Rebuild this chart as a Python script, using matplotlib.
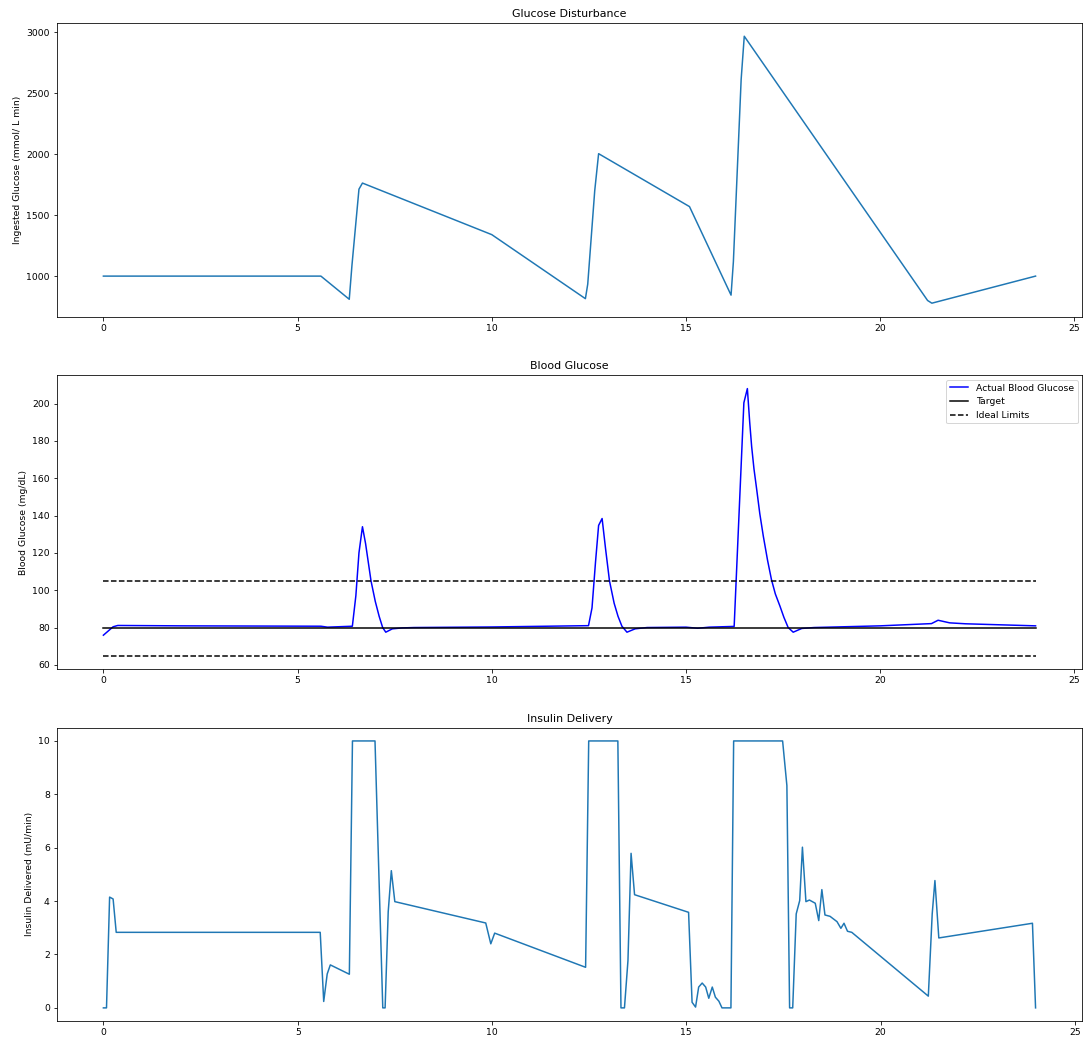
import numpy as np
import matplotlib
matplotlib.use("Agg")
import matplotlib.pyplot as plt

plt.rcParams['font.size'] = 9.2

# glucose disturbance (ingested glucose)
t_dist = [0, 5.6, 6.33, 6.4, 6.58, 6.67, 10.0, 12.41, 12.47, 12.65, 12.75,
          15.09, 16.16, 16.22, 16.42, 16.5, 21.22, 21.33, 24.0]
dist = [1000, 1000, 810, 1090, 1713, 1763, 1340, 815, 934, 1700, 2004,
        1570, 844, 1118, 2613, 2967, 800, 778, 1000]

# blood glucose
t_bg = [0, 0.25, 0.37, 2, 5.6, 5.77, 6.41, 6.5, 6.58, 6.67, 6.75, 6.89, 7.0,
        7.1, 7.19, 7.27, 7.44, 7.7, 8.0, 10, 12.49, 12.58, 12.67, 12.75,
        12.84, 12.93, 13.03, 13.15, 13.25, 13.35, 13.48, 13.69, 14.0, 15.0,
        15.3, 15.6, 16.24, 16.49, 16.58, 16.64, 16.69, 16.75, 16.82, 16.9,
        16.99, 17.1, 17.2, 17.3, 17.42, 17.52, 17.63, 17.76, 17.98, 18.3,
        20, 21.32, 21.49, 21.79, 22.2, 24]
bg = [75.9, 80.4, 81.1, 80.9, 80.7, 80.2, 80.7, 97, 120, 134, 125, 105, 94,
      86, 80, 77.5, 79.3, 79.8, 80.0, 80.3, 81, 90.5, 115, 134.7,
      138.4, 122, 105, 93, 86, 80.7, 77.5, 79.3, 80, 80.2,
      79.6, 80.2, 80.6, 200.4, 208, 190, 177, 165, 154, 141,
      129, 116, 105.7, 98, 91.4, 85.5, 80, 77.5, 79.5, 80,
      80.9, 82.1, 83.9, 82.5, 82, 80.9]
target = 80
limits = [65, 105]

# insulin delivery
t_ins = [0, 0.08, 0.16, 0.25, 0.33, 5.58, 5.67, 5.76, 5.84, 6.33, 6.41, 6.99,
         7.19, 7.25, 7.33, 7.41, 7.5, 9.84, 9.97, 10.07, 12.41, 12.49, 13.24,
         13.32, 13.41, 13.5, 13.58, 13.67, 15.06, 15.15, 15.24, 15.32, 15.41,
         15.5, 15.58, 15.67, 15.75, 15.84, 15.92, 16.15, 16.22, 17.48, 17.59,
         17.66, 17.74, 17.83, 17.92, 17.99, 18.08, 18.17, 18.32, 18.41, 18.49,
         18.57, 18.7, 18.88, 18.98, 19.06, 19.15, 19.26, 21.23, 21.33, 21.4,
         21.5, 23.91, 23.99]
ins = [0, 0, 4.15, 4.08, 2.83, 2.83, 0.24, 1.27, 1.61, 1.26, 10, 10,
       0, 0, 3.6, 5.14, 3.98, 3.18, 2.4, 2.8, 1.52, 10, 10,
       0, 0, 1.77, 5.79, 4.24, 3.58, 0.21, 0.03, 0.78, 0.93,
       0.78, 0.36, 0.78, 0.4, 0.25, 0, 0, 10, 10, 8.33,
       0, 0, 3.52, 4.02, 6.02, 3.98, 4.04, 3.92, 3.27, 4.43,
       3.48, 3.43, 3.23, 2.98, 3.17, 2.87, 2.83, 0.44, 3.52, 4.77,
       2.62, 3.17, 0]

t_start, t_end = 0, 24

fig, axes = plt.subplots(3, 1, figsize=(1092 / 72, 1041 / 72), dpi=72)
plt.subplots_adjust(left=0.052, right=0.991, top=0.978, bottom=0.019, hspace=0.2)

ax = axes[0]
ax.plot(t_dist, dist)
ax.set_title("Glucose Disturbance")
ax.set_ylabel("Ingested Glucose (mmol/ L min)")

ax = axes[1]
ax.plot(t_bg, bg, color='blue', label='Actual Blood Glucose')
ax.plot([t_start, t_end], [target, target], color='k', label='Target')
ax.plot([t_start, t_end], [limits[1], limits[1]], 'k--', label='Ideal Limits')
ax.plot([t_start, t_end], [limits[0], limits[0]], 'k--')
ax.set_title("Blood Glucose")
ax.set_ylabel("Blood Glucose (mg/dL)")
ax.legend(loc='upper right')

ax = axes[2]
ax.plot(t_ins, ins)
ax.set_title("Insulin Delivery")
ax.set_ylabel("Insulin Delivered (mU/min)")

fig.savefig("out.png", dpi=72)
